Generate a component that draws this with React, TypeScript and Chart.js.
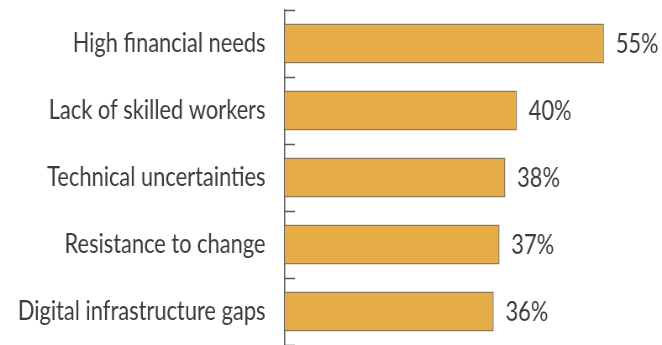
import React, { useEffect, useRef } from "react";
import { Chart, registerables } from "chart.js";

Chart.register(...registerables);

const categories = [
  "High financial needs",
  "Lack of skilled workers",
  "Technical uncertainties",
  "Resistance to change",
  "Digital infrastructure gaps",
];
const values = [55, 40, 38, 37, 36];
const valueSuffix = "%";

const CANVAS_W = 788;
const CANVAS_H = 345;
const SCALE_X = 662 / CANVAS_W;
const FONT = "Lato, 'Open Sans', sans-serif";
const TEXT_COLOR = "#3b3b3b";
const AXIS_COLOR = "#5a5a5a";

const boundaryTicks = {
  id: "boundaryTicks",
  afterDraw(chart: any) {
    const y = chart.scales.y;
    const ctx = chart.ctx;
    const left = chart.chartArea.left;
    ctx.save();
    ctx.strokeStyle = AXIS_COLOR;
    ctx.lineWidth = 1.5;
    for (let i = 0; i <= categories.length; i++) {
      const py = Math.round(y.getPixelForValue(i - 0.5)) + 0.5;
      ctx.beginPath();
      ctx.moveTo(left, py);
      ctx.lineTo(left + 12, py);
      ctx.stroke();
    }
    ctx.restore();
  },
};

const valueLabels = {
  id: "valueLabels",
  afterDatasetsDraw(chart: any) {
    const ctx = chart.ctx;
    const meta = chart.getDatasetMeta(0);
    ctx.save();
    ctx.fillStyle = TEXT_COLOR;
    ctx.font = `26px ${FONT}`;
    ctx.textAlign = "left";
    ctx.textBaseline = "middle";
    meta.data.forEach((bar: any, i: number) => {
      ctx.fillText(values[i] + valueSuffix, bar.x + 14, bar.y + 1);
    });
    ctx.restore();
  },
};

export default function App() {
  const ref = useRef<HTMLCanvasElement>(null);
  useEffect(() => {
    if (!ref.current) return;
    const chart = new Chart(ref.current, {
      type: "bar",
      data: {
        labels: categories,
        datasets: [
          {
            data: values,
            backgroundColor: "#E6AD46",
            borderColor: "#8c7a58",
            borderWidth: 1.5,
            borderSkipped: "left",
            barPercentage: 0.6,
            categoryPercentage: 1,
          },
        ],
      },
      options: {
        indexAxis: "y",
        animation: false,
        responsive: false,
        maintainAspectRatio: false,
        devicePixelRatio: 1,
        layout: { autoPadding: false, padding: { top: 10, right: 0, bottom: 0, left: 0 } },
        plugins: {
          legend: { display: false },
          tooltip: { enabled: false },
          title: { display: false },
        },
        scales: {
          x: {
            display: false,
            min: 0,
            max: 65,
          },
          y: {
            offset: true,
            grid: { display: true, drawOnChartArea: false, drawTicks: false },
            border: { display: true, color: AXIS_COLOR, width: 1.5 },
            ticks: {
              color: TEXT_COLOR,
              padding: 23,
              font: { family: FONT, size: 26 },
            },
            afterFit(scale: any) {
              scale.width = 339;
              scale.paddingTop = 0;
              scale.paddingBottom = 0;
            },
          },
        },
      },
      plugins: [boundaryTicks, valueLabels],
    });
    return () => chart.destroy();
  }, []);
  return (
    <div
      style={{
        position: "fixed",
        left: 0,
        top: 0,
        width: 662,
        height: 345,
        overflow: "hidden",
        background: "#fff",
      }}
    >
      <canvas
        ref={ref}
        width={CANVAS_W}
        height={CANVAS_H}
        style={{
          width: CANVAS_W,
          height: CANVAS_H,
          transform: `scaleX(${SCALE_X})`,
          transformOrigin: "0 0",
          display: "block",
        }}
      />
    </div>
  );
}
